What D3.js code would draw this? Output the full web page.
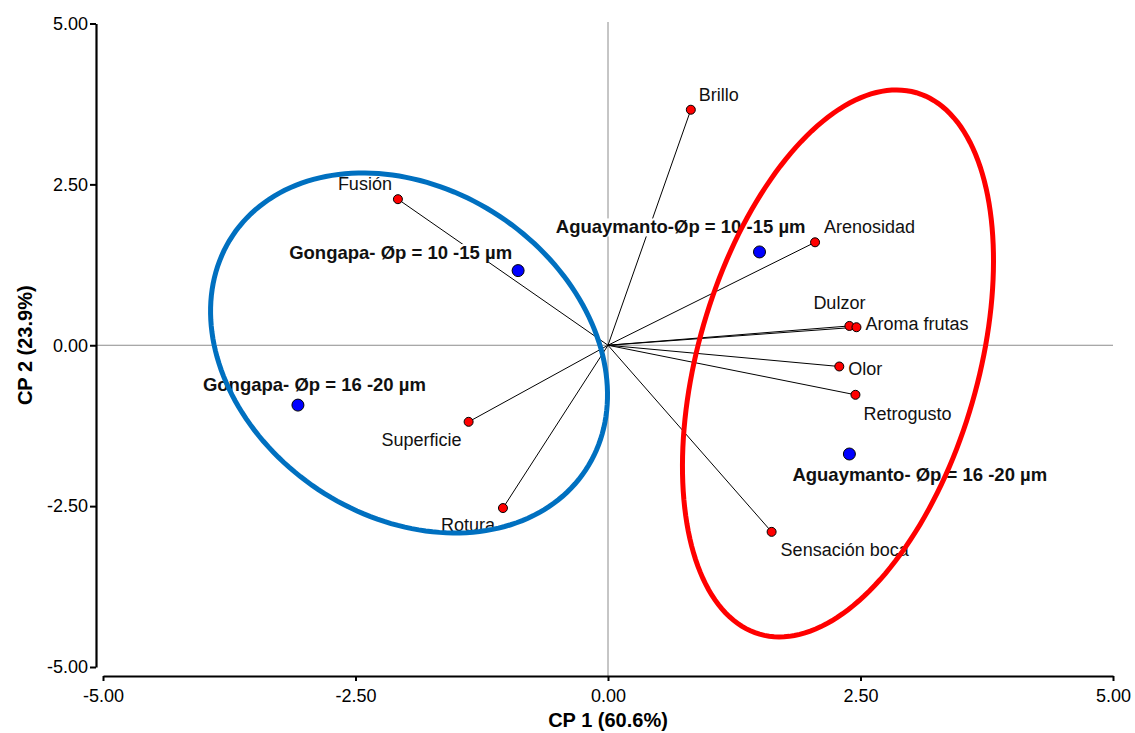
<!DOCTYPE html>
<html>
<head>
<meta charset="utf-8">
<script src="https://cdn.jsdelivr.net/npm/d3@7"></script>
<style>
  body { margin: 0; background: #fff; }
  text { font-family: "Liberation Sans", Arial, sans-serif; }
</style>
</head>
<body>
<div id="chart"></div>
<script>
// PCA biplot: variable loadings (red) and samples (blue)
const ticks = [-5, -2.5, 0, 2.5, 5];

const variables = ["Brillo", "Fusión", "Arenosidad", "Dulzor", "Aroma frutas", "Olor", "Retrogusto", "Sensación boca", "Superficie", "Rotura"];
const varCP1 = [0.82, -2.08, 2.05, 2.39, 2.46, 2.29, 2.45, 1.62, -1.38, -1.04];
const varCP2 = [3.66, 2.27, 1.60, 0.30, 0.28, -0.33, -0.77, -2.90, -1.19, -2.53];

const samples = ["Gongapa- Øp = 10 -15 µm", "Gongapa- Øp = 16 -20 µm", "Aguaymanto-Øp = 10 -15 µm", "Aguaymanto- Øp = 16 -20 µm"];
const sampleCP1 = [-0.89, -3.07, 1.50, 2.39];
const sampleCP2 = [1.16, -0.93, 1.45, -1.69];

// group ellipses: centre and two conjugate semi-axes, in CP units
const groups = ["Gongapa", "Aguaymanto"];
const groupCenter = [[-1.97, -0.12], [2.277, -0.283]];
const groupAxis1 = [[1.748, -1.821], [0.776, 4.207]];
const groupAxis2 = [[-0.898, -2.123], [1.330, -0.605]];
const groupColor = ["#0070c0", "#ff0000"];

// label placement: [anchor, dx, dy] in px from the point
const labelPos = {
    "Brillo": ["start", 8, -15],
    "Fusión": ["end", -6, -15],
    "Arenosidad": ["start", 9, -16],
    "Dulzor": ["start", -36, -23],
    "Aroma frutas": ["start", 9, -4],
    "Olor": ["start", 9, 2],
    "Retrogusto": ["start", 8, 19],
    "Sensación boca": ["start", 9, 18],
    "Superficie": ["end", -7, 18],
    "Rotura": ["end", -8, 17],
    "Gongapa- Øp = 10 -15 µm": ["end", -6, -18],
    "Gongapa- Øp = 16 -20 µm": ["start", -95, -21],
    "Aguaymanto-Øp = 10 -15 µm": ["end", 46, -25],
    "Aguaymanto- Øp = 16 -20 µm": ["start", -57, 21]
};

const W = 1135, H = 733;
const svg = d3.select("#chart").append("svg")
    .attr("width", W)
    .attr("height", H);

const x = d3.scaleLinear().domain([-5, 5]).range([103, 1113]);
const y = d3.scaleLinear().domain([-5, 5]).range([667, 23.5]);
const yAxisX = 96, xAxisY = 676;
const fmt = d => d.toFixed(2);

// zero lines
svg.append("line")
    .attr("x1", x(0)).attr("x2", x(0))
    .attr("y1", 22).attr("y2", xAxisY)
    .attr("stroke", "#8c8c8c").attr("stroke-width", 1);
svg.append("line")
    .attr("x1", yAxisX).attr("x2", 1113)
    .attr("y1", y(0)).attr("y2", y(0))
    .attr("stroke", "#8c8c8c").attr("stroke-width", 1);

// axes
const gx = svg.append("g")
    .attr("transform", `translate(0, ${xAxisY})`)
    .call(d3.axisBottom(x).tickValues(ticks).tickFormat(fmt).tickSize(5).tickSizeOuter(0).tickPadding(8));
const gy = svg.append("g")
    .attr("transform", `translate(${yAxisX}, 0)`)
    .call(d3.axisLeft(y).tickValues(ticks).tickFormat(fmt).tickSize(6).tickSizeOuter(0).tickPadding(2));
[gx, gy].forEach(function (g) {
    g.select(".domain").attr("stroke", "#000").attr("stroke-width", 2.2);
    g.selectAll(".tick line").attr("stroke", "#000").attr("stroke-width", 2);
    g.selectAll(".tick text")
        .attr("fill", "#000")
        .style("font-size", "18px")
        .style("font-family", '"Liberation Sans", Arial, sans-serif');
});

svg.append("text")
    .attr("x", x(0)).attr("y", 727)
    .attr("text-anchor", "middle")
    .style("font-size", "20px").style("font-weight", "bold")
    .text("CP 1 (60.6%)");
svg.append("text")
    .attr("transform", `translate(32, ${y(0)}) rotate(-90)`)
    .attr("text-anchor", "middle")
    .style("font-size", "20px").style("font-weight", "bold")
    .text("CP 2 (23.9%)");

// loading vectors
const vars = variables.map((v, i) => ({name: v, cx: varCP1[i], cy: varCP2[i]}));
const smp = samples.map((s, i) => ({name: s, cx: sampleCP1[i], cy: sampleCP2[i]}));

svg.append("g").selectAll("line")
    .data(vars)
    .enter().append("line")
    .attr("x1", x(0)).attr("y1", y(0))
    .attr("x2", d => x(d.cx)).attr("y2", d => y(d.cy))
    .attr("stroke", "#000").attr("stroke-width", 1);

// labels (white box behind each)
function addLabels(data, bold) {
    const g = svg.append("g");
    const items = g.selectAll("g").data(data).enter().append("g");
    const txt = items.append("text")
        .attr("x", d => x(d.cx) + labelPos[d.name][1])
        .attr("y", d => y(d.cy) + labelPos[d.name][2])
        .attr("dy", "0.35em")
        .attr("text-anchor", d => labelPos[d.name][0])
        .style("font-size", bold ? "18.5px" : "18px")
        .style("font-weight", bold ? "bold" : "normal")
        .attr("fill", "#111")
        .text(d => d.name);
    txt.each(function () {
        const b = this.getBBox();
        d3.select(this.parentNode).insert("rect", "text")
            .attr("x", b.x).attr("y", b.y + 2)
            .attr("width", b.width).attr("height", b.height - 3)
            .attr("fill", "#fff");
    });
}
addLabels(vars, false);
addLabels(smp, true);

// ellipses
const ellipse = d3.line().curve(d3.curveLinearClosed);
groups.forEach(function (gname, i) {
    const c = groupCenter[i], u = groupAxis1[i], v = groupAxis2[i];
    const pts = d3.range(0, 2 * Math.PI, Math.PI / 90).map(t => [
        x(c[0] + u[0] * Math.cos(t) + v[0] * Math.sin(t)),
        y(c[1] + u[1] * Math.cos(t) + v[1] * Math.sin(t))
    ]);
    svg.append("path")
        .attr("d", ellipse(pts))
        .attr("fill", "none")
        .attr("stroke", groupColor[i])
        .attr("stroke-width", 5);
});

// points
svg.append("g").selectAll("circle")
    .data(vars)
    .enter().append("circle")
    .attr("cx", d => x(d.cx)).attr("cy", d => y(d.cy))
    .attr("r", 4.5)
    .attr("fill", "#ff0000").attr("stroke", "#000").attr("stroke-width", 1);
svg.append("g").selectAll("circle")
    .data(smp)
    .enter().append("circle")
    .attr("cx", d => x(d.cx)).attr("cy", d => y(d.cy))
    .attr("r", 6)
    .attr("fill", "#0000ff").attr("stroke", "#000").attr("stroke-width", 1);
</script>
</body>
</html>
